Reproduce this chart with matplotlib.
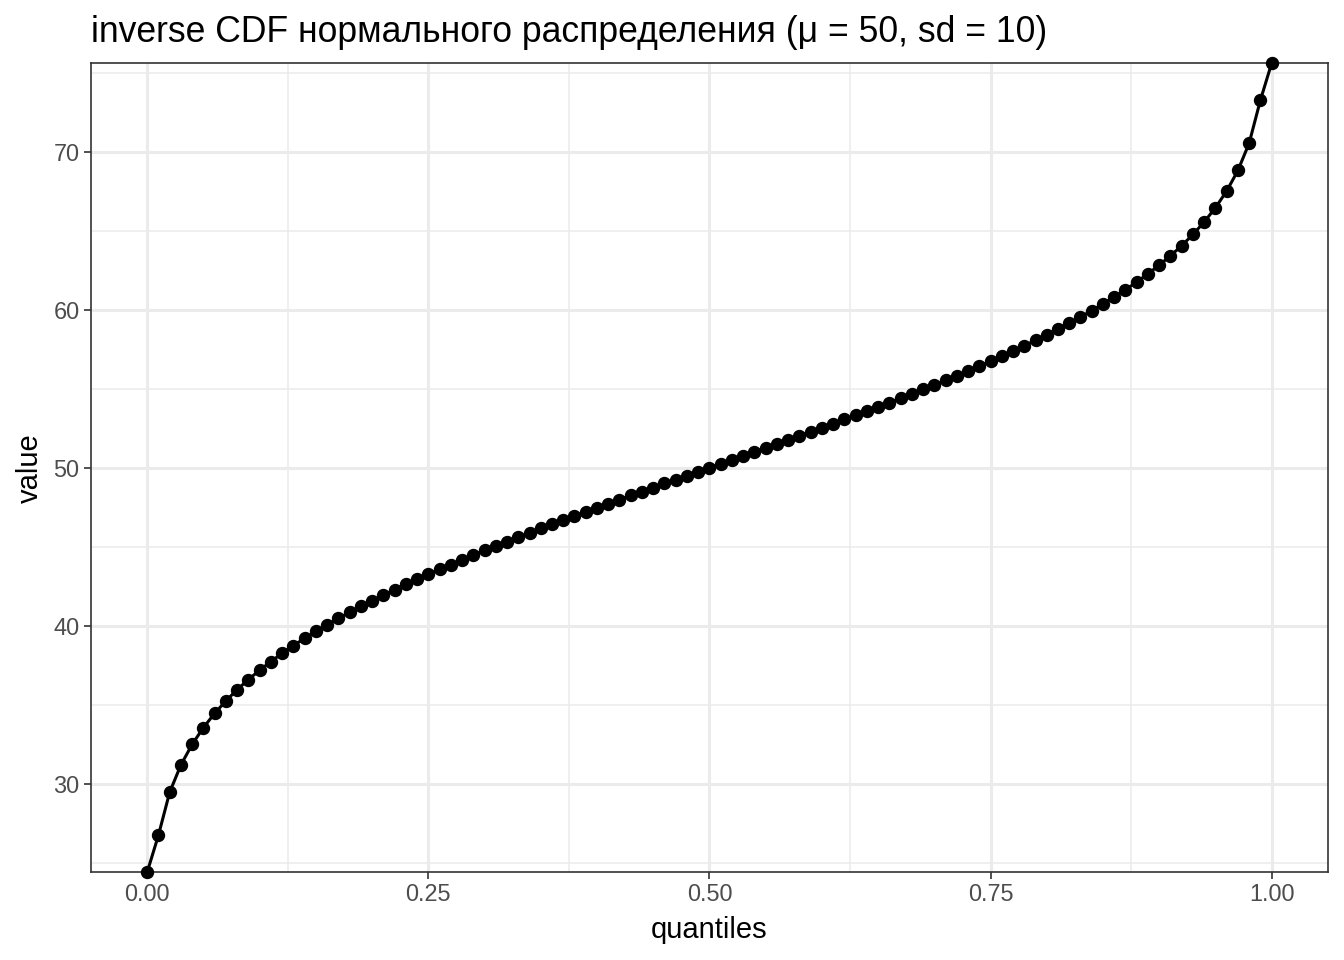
import numpy as np
import matplotlib
matplotlib.use("Agg")
import matplotlib.pyplot as plt

plt.rcParams["font.family"] = ["Liberation Sans", "DejaVu Sans"]

# quantile grid 0.00 .. 1.00 step 0.01
quantiles = np.linspace(0, 1, 101)
# values (endpoints sit on the panel edges)
values = [
    24.4, 26.74, 29.46, 31.19, 32.49, 33.55, 34.45, 35.24, 35.95, 36.59,
    37.18, 37.73, 38.25, 38.74, 39.20, 39.64, 40.06, 40.46, 40.85, 41.22,
    41.58, 41.94, 42.28, 42.61, 42.94, 43.26, 43.57, 43.87, 44.17, 44.47,
    44.76, 45.04, 45.32, 45.60, 45.88, 46.15, 46.41, 46.68, 46.94, 47.21,
    47.47, 47.72, 47.98, 48.24, 48.49, 48.74, 49.00, 49.25, 49.50, 49.75,
    50.00, 50.25, 50.50, 50.75, 51.00, 51.26, 51.51, 51.76, 52.02, 52.28,
    52.53, 52.79, 53.06, 53.32, 53.59, 53.85, 54.12, 54.40, 54.68, 54.96,
    55.24, 55.53, 55.83, 56.13, 56.43, 56.74, 57.06, 57.39, 57.72, 58.06,
    58.42, 58.78, 59.15, 59.54, 59.94, 60.36, 60.80, 61.26, 61.75, 62.27,
    62.82, 63.41, 64.05, 64.76, 65.55, 66.45, 67.51, 68.81, 70.54, 73.26,
    75.6,
]
x_ticks = [0, 0.25, 0.5, 0.75, 1.0]
x_labels = ["0.00", "0.25", "0.50", "0.75", "1.00"]
y_ticks = [30, 40, 50, 60, 70]

fig = plt.figure(figsize=(13.44, 9.6), dpi=100)
ax = fig.add_axes([0.0677, 0.0917, 0.9203, 0.8423])

ax.plot(quantiles, values, color="black", lw=2.2, zorder=3, clip_on=False)
ax.plot(quantiles, values, "o", color="black", ms=8.6, zorder=4, clip_on=False)

ax.set_xlim(-0.05, 1.05)
ax.set_ylim(24.41, 75.59)

ax.set_xticks(x_ticks)
ax.set_xticklabels(x_labels)
ax.set_yticks(y_ticks)
ax.set_xticks([0.125, 0.375, 0.625, 0.875], minor=True)
ax.set_yticks([25, 35, 45, 55, 65, 75], minor=True)

ax.grid(which="major", color="#EBEBEB", lw=2.2)
ax.grid(which="minor", color="#EBEBEB", lw=1.1)
ax.set_axisbelow(True)
ax.tick_params(which="major", length=5.2, width=1.2, color="#333333",
               labelsize=16.9, labelcolor="#4D4D4D", pad=3)
ax.tick_params(which="minor", length=0)
for s in ax.spines.values():
    s.set_color("#333333")
    s.set_linewidth(1.2)

ax.set_xlabel("quantiles", fontsize=21, labelpad=7)
ax.set_ylabel("value", fontsize=21, labelpad=7)
ax.set_title("inverse CDF нормального распределения (μ = 50, sd = 10)",
             fontsize=25.6, loc="left", pad=15.5)

fig.savefig("out.png", dpi=100)
